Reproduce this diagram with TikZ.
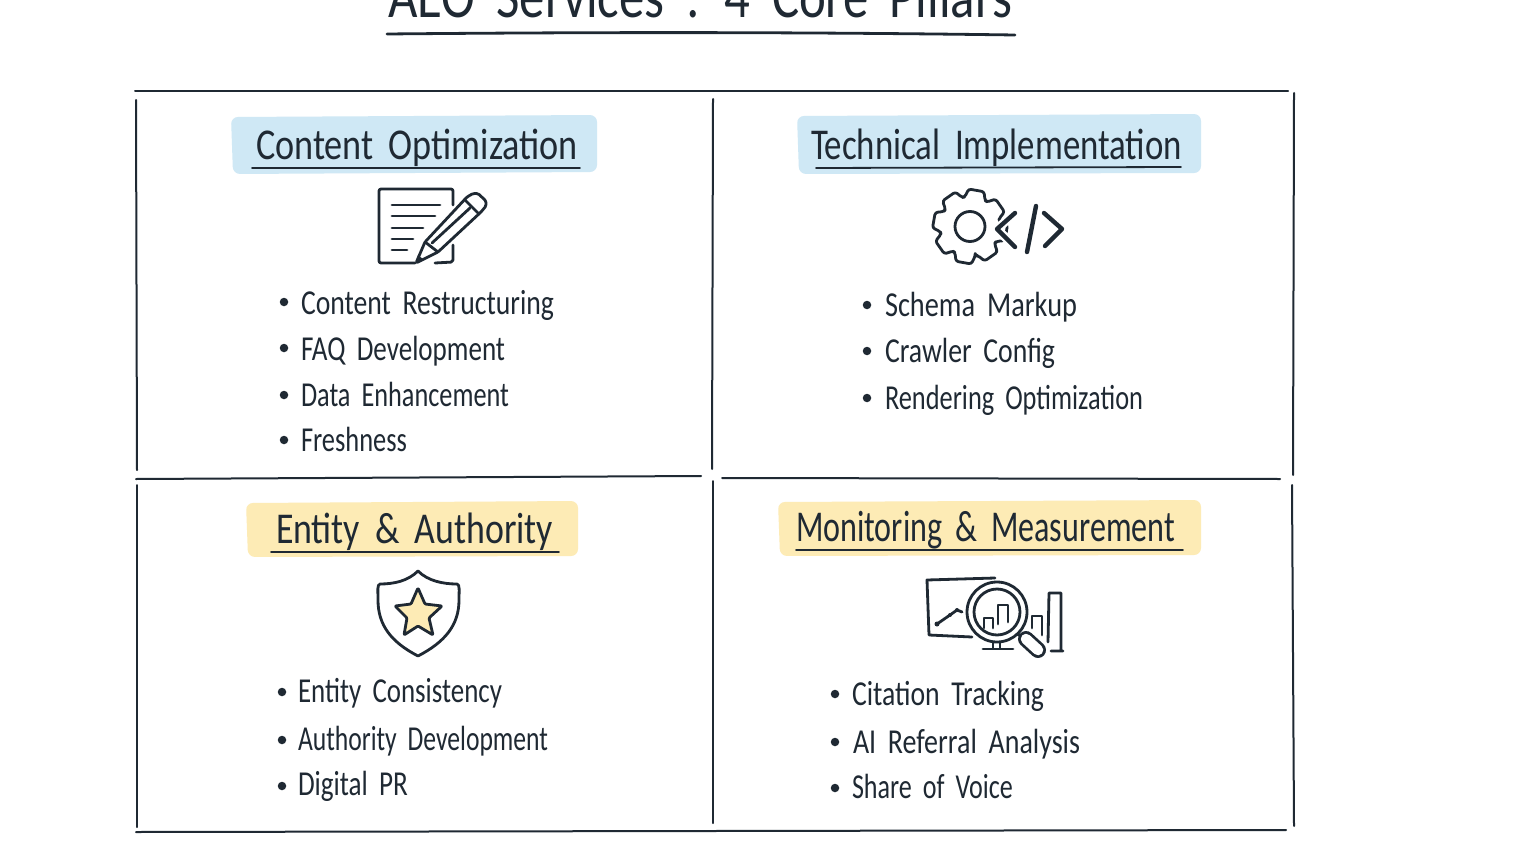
\documentclass[tikz,border=0pt]{standalone}
\usepackage{graphicx}
\usepackage{fontspec}
\setmainfont{Carlito}
\definecolor{ink}{HTML}{1F2933}
\definecolor{bandblue}{HTML}{CFE8F5}
\definecolor{bandyellow}{HTML}{FDEBB5}
\newcommand{\hwtext}[6]{\node[hwlabel,font=\fontsize{#5}{#5}\selectfont] (#1) at (#2,#3) {\spaceskip=0.42em\relax\resizebox{#4pt}{\height}{#6}};}
\newcommand{\bulletdot}[3]{\node[bulletmark] (#1) at (#2,#3) {};}
\tikzset{
  hwlabel/.style={anchor=base west,inner sep=0pt,outer sep=0pt,text=ink},
  bulletmark/.style={circle,fill=ink,inner sep=0pt,minimum size=8.5pt},
  gridline/.style={draw=ink,line width=2pt,line cap=round},
  headrule/.style={draw=ink,line width=1.8pt,line cap=round},
  icon/.style={draw=ink,line width=2.8pt,line cap=round,line join=round},
  iconthick/.style={draw=ink,line width=4.4pt,line cap=round,line join=round},
  band/.style={rounded corners=7pt,draw=none},
}
\begin{document}
\begin{tikzpicture}[x=1pt,y=-1pt]
\useasboundingbox (0,0) rectangle (1536,864);
\fill[white] (0,0) rectangle (1536,864);
% title
\hwtext{title}{388}{18}{624}{62}{AEO Services : 4 Core Pillars}
\draw[draw=ink,line width=2.8pt,line cap=round] (387,34) .. controls (600,32) and (800,32) .. (1015,35);
% grid
\draw[gridline] (135,91) -- (1288,91);
\draw[gridline] (136,100) -- (137,470);
\draw[gridline] (713,99) -- (712,469);
\draw[gridline] (1294,93) -- (1293,475);
\draw[gridline] (136,479) -- (701,476);
\draw[gridline] (722,478) -- (1280,479);
\draw[gridline] (137,485) -- (137,827);
\draw[gridline] (713,481) -- (713,823);
\draw[gridline] (1292,485) -- (1294,826);
\draw[gridline] (136,832) -- (1286,830);
% bands
\fill[band,bandblue] (231,117) -- (597,115) -- (597,172) -- (233,174) -- cycle;
\fill[band,bandblue] (797,116) -- (1201,114) -- (1201,173) -- (799,174) -- cycle;
\fill[band,bandyellow] (246,503) -- (578,501) -- (578,556) -- (248,557) -- cycle;
\fill[band,bandyellow] (778,502) -- (1201,500) -- (1201,555) -- (780,556) -- cycle;
% headers
\hwtext{h1}{256}{159}{322}{44}{Content Optimization}
\hwtext{h2}{811}{160}{371}{44}{Technical Implementation}
\hwtext{h3}{276}{543}{277}{44}{Entity \& Authority}
\hwtext{h4}{796}{541}{379}{44}{Monitoring \& Measurement}
\draw[headrule] (252,168) -- (580,168);
\draw[headrule] (816,168) -- (1181,167);
\draw[headrule] (271,552) -- (559,552);
\draw[headrule] (796,550) -- (1183,550);
% lists
\bulletdot{b11}{284}{302}\hwtext{t11}{301}{314}{253}{35}{Content Restructuring}
\bulletdot{b12}{284}{348}\hwtext{t12}{301}{360}{204}{35}{FAQ Development}
\bulletdot{b13}{284}{395}\hwtext{t13}{301}{406}{208}{35}{Data Enhancement}
\bulletdot{b14}{284}{440}\hwtext{t14}{301}{451}{106}{35}{Freshness}
\bulletdot{b21}{867}{305}\hwtext{t21}{885}{316}{192}{35}{Schema Markup}
\bulletdot{b22}{867}{351}\hwtext{t22}{885}{362}{170}{35}{Crawler Config}
\bulletdot{b23}{867}{398}\hwtext{t23}{885}{409}{258}{35}{Rendering Optimization}
\bulletdot{b31}{282}{692}\hwtext{t31}{298}{702}{204}{35}{Entity Consistency}
\bulletdot{b32}{282}{740}\hwtext{t32}{298}{750}{250}{35}{Authority Development}
\bulletdot{b33}{282}{786}\hwtext{t33}{298}{795}{110}{35}{Digital PR}
\bulletdot{b41}{835}{694}\hwtext{t41}{852}{705}{192}{35}{Citation Tracking}
\bulletdot{b42}{835}{742}\hwtext{t42}{853}{753}{227}{35}{AI Referral Analysis}
\bulletdot{b43}{835}{788}\hwtext{t43}{852}{798}{161}{35}{Share of Voice}
% document + pencil icon
\draw[icon,rounded corners=2pt] (415,263) -- (379,263) -- (379,189) -- (453,189) -- (453,205);
\draw[icon,rounded corners=2pt] (453,245) -- (453,262) -- (435,263);
\draw[icon] (392,205) -- (440,205) (392,216) -- (435,216) (392,228) -- (423,228) (392,239) -- (413,239) (392,250) -- (407,250);
\draw[icon,rounded corners=1.5pt] (416,263) -- (425,242) -- (467,197) -- (473,193.5) -- (478,193.5) -- (486,201) -- (486,206) -- (481,212) -- (438,252) -- cycle;
\draw[icon] (425,242) -- (438,252) (432,243) -- (470,208) (465,200) -- (478,213);
\fill[ink] (415,264) -- (418,255) -- (424,260) -- cycle;
% gear + code icon
\begin{scope}[shift={(970,226.5)}]
\draw[icon,rounded corners=2.5pt] (80:30) \foreach \a in {100,145,190,235,280,325,370,415} { -- (\a-20:30) -- (\a-12:37.5) -- (\a+12:37.5) -- (\a+20:30) } -- cycle;
\draw[icon] (0,0) circle (15);
\end{scope}
\draw[draw=white,line width=9pt,line cap=round,line join=round] (1015,213) -- (997,229) -- (1015,247);
\draw[iconthick] (1015,213) -- (997,229) -- (1015,247);
\draw[iconthick] (1036,206) -- (1027,252);
\draw[iconthick] (1044,213) -- (1062,229) -- (1045,246);
% shield + star icon
\draw[icon,fill=white] (418,571) .. controls (428,581) and (443,584) .. (457,584) .. controls (460,585) and (459,590) .. (459,600) .. controls (459,625) and (445,642) .. (418,656) .. controls (391,642) and (378,625) .. (378,600) .. controls (378,590) and (377,585) .. (380,584) .. controls (394,584) and (408,581) .. (418,571) -- cycle;
\draw[icon,fill=bandyellow,rounded corners=1pt] (418,588) -- (425,604) -- (442,606) -- (429,618) -- (433,635) -- (418,626) -- (404,635) -- (407,618) -- (395,606) -- (411,604) -- cycle;
% monitoring icon
\draw[icon] (995,578) -- (927,580) -- (929,635) -- (972,637);
\draw[icon] (937,624) -- (950,615) -- (957,610) -- (962,612);
\fill[ink] (937,624) circle (2.5) (950,615) circle (2) (957,610) circle (2);
\draw[icon] (984,628) -- (984,618) -- (993,618) -- (993,628);
\draw[icon] (998,624) -- (998,605) -- (1008,605) -- (1008,622);
\draw[icon] (1032,628) -- (1032,616) -- (1042,616) -- (1042,635);
\draw[icon] (1048,642) -- (1049,593) -- (1061,593) -- (1061,650) (1051,651) -- (1063,651);
\draw[icon] (993,643) -- (993,648) (1000,643) -- (1000,648) (983,649) -- (1013,649);
\draw[icon] (997,612) circle (30) (997,612) circle (23);
\draw[icon] (1017,634) -- (1023,637);
\draw[draw=ink,line width=16pt,line cap=round] (1026,639) -- (1038,650);
\draw[draw=white,line width=10.5pt,line cap=round] (1026,639) -- (1038,650);
\end{tikzpicture}
\end{document}
